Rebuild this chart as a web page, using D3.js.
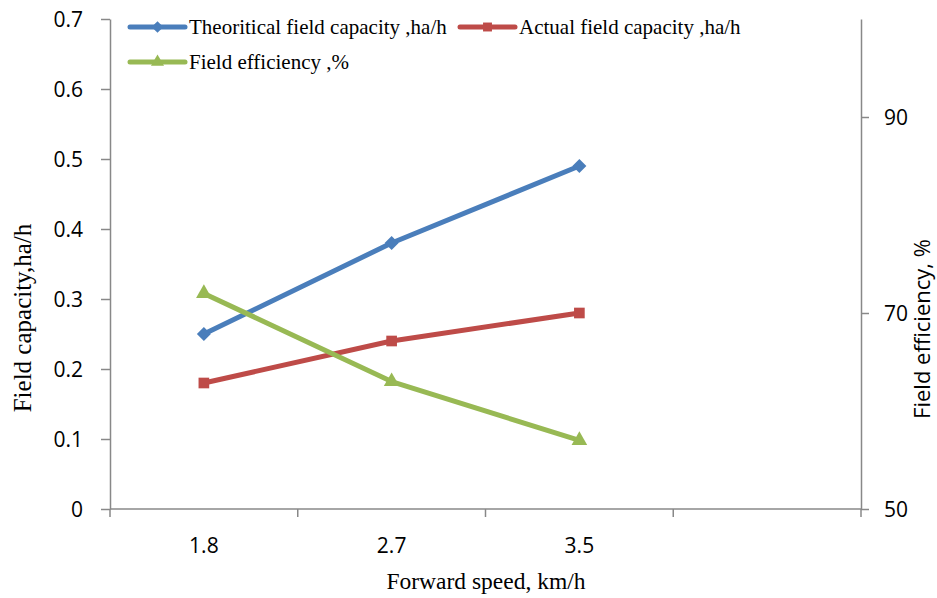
<!DOCTYPE html>
<html>
<head>
<meta charset="utf-8">
<script src="https://cdn.jsdelivr.net/npm/d3@7"></script>
<style>
  body { margin: 0; background: #fff; }
  .axis path, .axis line { stroke: #888; stroke-width: 1.5; }
  .serif { font-family: "Liberation Serif", "Times New Roman", serif; fill: #000; }
</style>
</head>
<body>
<div id="chart"></div>
<script>
const speeds = ['1.8', '2.7', '3.5', ''];
const theoreticalCapacity = [0.25, 0.38, 0.49];
const actualCapacity = [0.18, 0.24, 0.28];
const fieldEfficiency = [72, 63, 57];
const leftTicks = [0, 0.1, 0.2, 0.3, 0.4, 0.5, 0.6, 0.7];
const rightTicks = [50, 70, 90];

const width = 937, height = 598;
const plot = { left: 110, right: 861, top: 19, bottom: 509 };

const svg = d3.select('#chart').append('svg')
  .attr('width', width).attr('height', height);

const x = d3.scaleBand().domain(speeds).range([plot.left, plot.right]);
const yL = d3.scaleLinear().domain([0, 0.7]).range([plot.bottom, plot.top]);
const yR = d3.scaleLinear().domain([50, 100]).range([plot.bottom, plot.top]);
const cx = d => x(d) + x.bandwidth() / 2;

// axes
const xAxis = svg.append('g').attr('class', 'axis')
  .attr('transform', 'translate(0,' + plot.bottom + ')')
  .call(d3.axisBottom(x).tickSize(0).tickPadding(29));
xAxis.select('.domain').attr('d', 'M' + plot.left + ',0H' + plot.right);
// category boundary ticks
xAxis.selectAll('line.bound').data(d3.range(speeds.length + 1)).enter()
  .append('line').attr('class', 'bound')
  .attr('x1', i => plot.left + i * x.bandwidth()).attr('x2', i => plot.left + i * x.bandwidth())
  .attr('y1', 0).attr('y2', 8);

svg.append('g').attr('class', 'axis')
  .attr('transform', 'translate(' + plot.left + ',0)')
  .call(d3.axisLeft(yL).tickValues(leftTicks).tickSize(9).tickPadding(18)
    .tickSizeOuter(0).tickFormat(d => d === 0 ? '0' : d3.format('.1f')(d)));

svg.append('g').attr('class', 'axis')
  .attr('transform', 'translate(' + plot.right + ',0)')
  .call(d3.axisRight(yR).tickValues(rightTicks).tickSize(8).tickPadding(15).tickSizeOuter(0));

svg.selectAll('g.axis')
  .attr('font-family', '"Open Sans", sans-serif').attr('font-size', 21);
svg.selectAll('.tick text').attr('fill', '#000').attr('dy', '0.36em');
xAxis.selectAll('.tick text').attr('dy', '0.71em');

// axis titles
svg.append('text').attr('class', 'serif')
  .attr('transform', 'translate(31,318) rotate(-90)')
  .attr('text-anchor', 'middle').style('font-size', '25px')
  .text('Field capacity,ha/h');
svg.append('text').attr('class', 'serif')
  .attr('x', 486).attr('y', 589)
  .attr('text-anchor', 'middle').style('font-size', '23.5px')
  .text('Forward speed, km/h');
svg.append('text')
  .attr('transform', 'translate(930,329) rotate(-90)')
  .attr('text-anchor', 'middle')
  .style('font-family', '"Open Sans", sans-serif').style('font-size', '22px')
  .text('Field efficiency, %');

// series
const series = [
  { name: 'Theoritical field capacity ,ha/h', values: theoreticalCapacity, y: yL, color: '#4a7ebb', symbol: d3.symbolDiamond2, size: 125 },
  { name: 'Actual field capacity ,ha/h', values: actualCapacity, y: yL, color: '#be4b48', symbol: d3.symbolSquare2, size: 145 },
  { name: 'Field efficiency ,%', values: fieldEfficiency, y: yR, color: '#98b954', symbol: d3.symbolTriangle2, size: 175 }
];

series.forEach(s => {
  const line = d3.line().x((d, i) => cx(speeds[i])).y(d => s.y(d));
  svg.append('path').datum(s.values)
    .attr('d', line).attr('fill', 'none')
    .attr('stroke', s.color).attr('stroke-width', 5)
    .attr('stroke-linejoin', 'round').attr('stroke-linecap', 'round');
  svg.selectAll(null).data(s.values).enter().append('path')
    .attr('d', d3.symbol().type(s.symbol).size(s.size))
    .attr('transform', (d, i) => 'translate(' + cx(speeds[i]) + ',' + s.y(d) + ')')
    .attr('fill', s.color);
});

// legend
const legendPos = [[130, 27], [460, 27], [130, 62]];
series.forEach((s, i) => {
  const g = svg.append('g').attr('transform', 'translate(' + legendPos[i][0] + ',' + legendPos[i][1] + ')');
  g.append('line').attr('x1', 0).attr('x2', 55).attr('y1', 0).attr('y2', 0)
    .attr('stroke', s.color).attr('stroke-width', 5).attr('stroke-linecap', 'round');
  g.append('path').attr('d', d3.symbol().type(s.symbol).size(s.size * 0.7))
    .attr('transform', 'translate(27.5,0)').attr('fill', s.color);
  g.append('text').attr('class', 'serif').attr('x', 59).attr('y', 7)
    .style('font-size', '21px').text(s.name);
});
</script>
</body>
</html>
